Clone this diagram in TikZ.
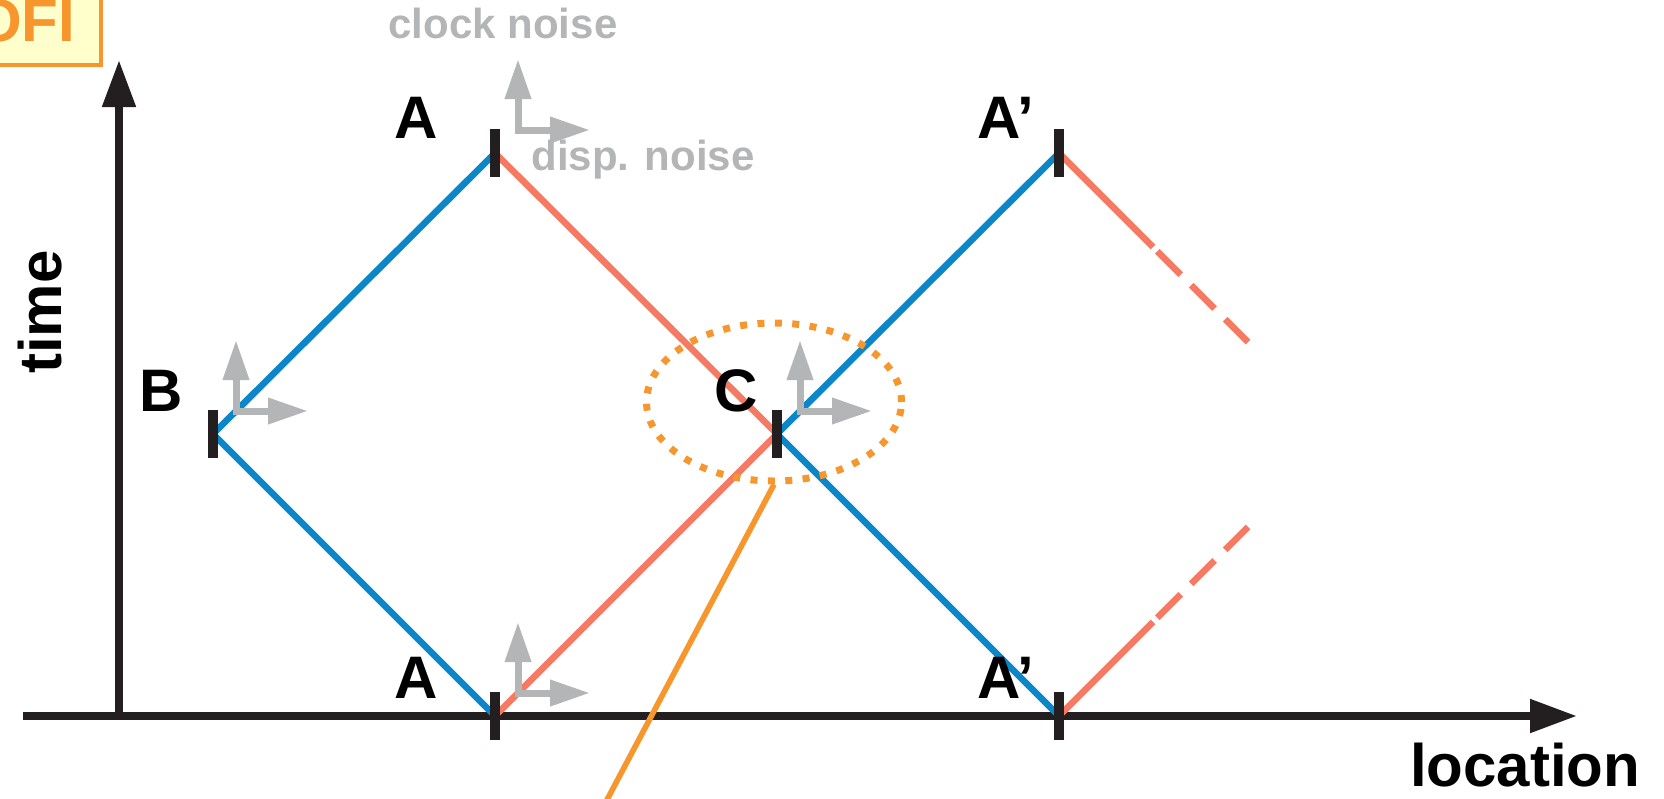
\documentclass[tikz,border=0pt]{standalone}
\usepackage{fontspec}
\setmainfont{Liberation Sans}
\usepackage{tikz}
\usetikzlibrary{positioning,arrows.meta,calc,shapes.geometric}
\definecolor{cBlue}{HTML}{0B86C8}
\definecolor{cRed}{HTML}{F47A64}
\definecolor{cOrange}{HTML}{F7962C}
\definecolor{cGrey}{HTML}{B4B5B7}
\definecolor{cInk}{HTML}{231F20}
\definecolor{cNote}{HTML}{FFFFCC}

\begin{document}
\begin{tikzpicture}[
  x=0.5pt,y=-0.5pt,
  lbl/.style={font=\fontsize{30pt}{30pt}\selectfont\bfseries,inner sep=0pt,anchor=base},
  noiselbl/.style={font=\fontsize{21pt}{21pt}\selectfont\bfseries,text=cGrey,inner sep=0pt,anchor=base},
  axis/.style={draw=cInk,line width=4pt,-{Triangle[length=23.5pt,width=16pt]}},
  tickmark/.style={fill=cInk,minimum width=5pt,minimum height=24pt,inner sep=0pt},
  fwd/.style={cBlue,line width=3.3pt},
  bwd/.style={cRed,line width=3.3pt},
  bwdfade/.style={bwd,dash pattern=on 66.5pt off 3pt on 16.5pt off 7.5pt on 16.5pt off 7.5pt on 16.6pt off 20pt},
  noise/.style={cGrey,line width=3.5pt,line join=miter,
    {Triangle[length=20pt,width=12.5pt]}-{Triangle[length=20pt,width=12.5pt]}},
  lead/.style={cOrange,line width=2.8pt}
]
\useasboundingbox (0,0) rectangle (1664,798);
\clip (0,0) rectangle (1664,798);
% --- axes ---
\coordinate (xs) at (23,716);
\coordinate (xe) at (1577,716);
\coordinate (ys) at (119,720);
\coordinate (ye) at (119,60);
\draw[axis] (xs) -- (xe);
\draw[axis] (ys) -- (ye);
% --- reflection points ---
\coordinate (B) at (213,434);
\coordinate (At) at (495,153);
\coordinate (Ab) at (495,716);
\coordinate (C) at (777,434);
\coordinate (Pt) at (1059,153);
\coordinate (Pb) at (1059,716);
\coordinate (Ptend) at (1248,342);
\coordinate (Pbend) at (1248,527);
\draw[fwd] (Ab) -- (B) -- (At);
\draw[fwd] (Pb) -- (C) -- (Pt);
\draw[bwd] (At) -- (C) -- (Ab);
\draw[bwdfade] (Pt) -- (Ptend);
\draw[bwdfade] (Pb) -- (Pbend);
\foreach \v in {B,At,Ab,C,Pt,Pb}
  \node[tickmark] (t\v) at (\v) {};
% --- noise axes ---
\foreach \v in {B,At,Ab,C}
  \draw[noise] ($(\v)+(23,-94)$) |- ($(\v)+(95,-23)$);
\node[noiselbl] (clk) at (503,38) {clock noise};
\node[noiselbl] (disp) at (643,170) {disp. noise};
% --- labels ---
\node[lbl] (lAt) at (416,138) {A};
\node[lbl] (lAb) at (416,698) {A};
\node[lbl] (lPt) at (1006,138) {A’};
\node[lbl] (lPb) at (1006,698) {A’};
\node[lbl] (lB) at (161,411) {B};
\node[lbl] (lC) at (736,411) {C};
\node[lbl,rotate=90,anchor=center] (ltime) at (40,312) {time};
\node[lbl] (lloc) at (1525,786) {location};
% --- highlighted crossing ---
\node[draw=cOrange,ellipse,line width=3.5pt,dash pattern=on 3.5pt off 5.2pt,
      minimum width=127.5pt,minimum height=79pt,inner sep=0pt] (ring) at (774,402) {};
\coordinate (tail) at (591,830);
\draw[lead] (ring.south) -- (tail);
\node[draw=cOrange,line width=2pt,fill=cNote,text=cOrange,
      font=\fontsize{30pt}{30pt}\selectfont\bfseries,
      inner xsep=13pt,inner ysep=11.5pt,anchor=south east] (ofi) at (103,67) {OFI};
\end{tikzpicture}
\end{document}
